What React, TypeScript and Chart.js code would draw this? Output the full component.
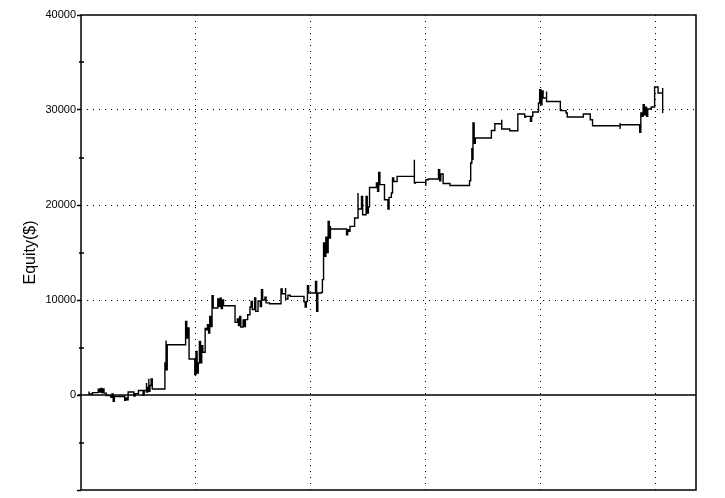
import React, { useEffect, useRef } from 'react';
import { Chart, registerables } from 'chart.js';

Chart.register(...registerables);

const FONT = "'Liberation Sans', Arial, sans-serif";

// Trading-day index of each equity change
const equityDays = [
  7, 7, 7, 10, 10, 15, 15, 16, 17, 18, 19, 20, 22, 26, 26, 27, 28, 29, 38, 38,
  39, 40, 41, 46, 46, 47, 50, 50, 54, 54, 55, 57, 57, 58, 59, 59, 60, 61, 62, 73,
  73, 74, 74, 75, 91, 91, 92, 93, 94, 99, 99,
  100, 101, 102, 103, 104, 105, 106, 108, 109, 110, 111, 112, 113, 114, 115, 118, 119, 120, 121, 122,
  123, 124, 134, 134, 136, 137, 138, 139, 141, 142, 143, 145, 147, 148, 149, 151, 152, 154, 156, 157,
  158, 160, 161, 164, 173, 174, 175, 177, 178, 178, 180, 182, 193, 194, 195, 196, 197, 198, 203, 204,
  205, 206, 209,
  210, 211, 212, 213, 214, 215, 216, 217, 217, 231, 231, 232, 233, 234, 236, 238, 240, 241, 241, 244,
  244, 245, 247, 248, 249, 250, 251, 256, 257, 258, 259, 260, 264, 264, 266, 267, 268, 270, 271, 272,
  275, 275, 289, 290, 290, 291, 299, 300, 300, 302,
  311, 311, 312, 313, 315, 315, 321, 321, 338, 338, 339, 340, 340, 341, 342, 343, 357, 357, 360, 360,
  366, 366, 366, 373, 373, 380, 380, 386, 386, 387, 391, 391, 392, 393, 398, 398, 399, 400, 401, 402,
  404, 405, 405, 417, 417, 422, 422, 423, 437, 437, 443, 443, 445, 445, 469, 469, 469, 469, 486, 486,
  487, 488, 489, 490, 491, 492, 493, 496, 496, 499, 499, 502, 502, 506, 506, 506,
];

// Equity ($) at each change
const equityValues = [
  0, 380, 110, 110, 250, 200, 600, 300, 700, 250, 650, 200, -70, -70, -250, 100, -650, -150, -150, -570,
  -300, -500, 320, 320, -100, 150, 150, 480, 480, 0, 480, 1260, 300, 800, 1720, 400, 1000, 1680, 630, 630,
  3370, 5750, 2660, 5290, 5290, 7750, 6000, 7050, 3790, 3790, 2140,
  4590, 2300, 3370, 5640, 3400, 5200, 4500, 7000, 6870, 7400, 6530, 8270, 7200, 10450, 9160, 9160, 10100, 9330, 10200, 9100,
  10000, 9400, 9400, 7640, 8000, 7300, 8280, 7160, 7900, 7200, 7930, 8450, 9260, 9850, 9000, 10210, 8800, 9900, 9300, 11080,
  10000, 10300, 9700, 9610, 9610, 11160, 10660, 10660, 11260, 10100, 10500, 10380, 10380, 9800, 9260, 9850, 11500, 10740, 10740, 11960,
  8800, 10740, 10800,
  12140, 16000, 14590, 16600, 15000, 18270, 16530, 17800, 17470, 17470, 16870, 17400, 17220, 17750, 17750, 18630, 18630, 21260, 19580, 19580,
  20900, 18980, 18980, 20900, 19160, 19800, 21850, 21850, 22320, 21430, 23430, 22140, 22140, 20560, 20560, 19580, 20800, 21260, 22840, 22480,
  22480, 23010, 23010, 24770, 22320, 22380, 22380, 22030, 22660, 22740,
  22740, 23710, 22560, 23260, 23260, 22270, 22270, 22060, 22060, 22560, 24420, 26000, 24800, 28630, 26500, 27050, 27050, 27850, 27850, 28560,
  28560, 28980, 28000, 28000, 27820, 27820, 29580, 29580, 29260, 29330, 29330, 28800, 29330, 29790, 29790, 30740, 32140, 30560, 32000, 31260,
  31260, 31960, 30900, 30900, 29930, 29930, 29690, 29260, 29260, 29580, 29580, 28980, 28800, 28350, 28350, 28630, 28000, 28450, 28450, 27640,
  29690, 29330, 30560, 29500, 30300, 29330, 30100, 30100, 30320, 30320, 32420, 32420, 31790, 31790, 32320, 29690,
];

const yLabeledTicks = [0, 10000, 20000, 30000, 40000];
const yMajorTicks = [-10000, 0, 10000, 20000, 30000, 40000];
const yMinorTicks = [-5000, 5000, 15000, 25000, 35000];
const yDottedGrid = [10000, 20000, 30000];
const xDottedGrid = [100, 200, 300, 400, 500];
const yTitle = 'Equity($)';
const X_MIN = 0;
const X_MAX = 535;
const Y_MIN = -10000;
const Y_MAX = 40000;

const framePlugin = {
  id: 'frameAndZero',
  beforeDatasetsDraw(chart: any) {
    const { ctx, chartArea, scales } = chart;
    const y0 = Math.round(scales.y.getPixelForValue(0));
    ctx.save();
    ctx.strokeStyle = '#000';
    ctx.lineWidth = 1.5;
    ctx.beginPath();
    ctx.moveTo(chartArea.left - 3, y0);
    ctx.lineTo(chartArea.right, y0);
    ctx.stroke();
    ctx.restore();
  },
  afterDraw(chart: any) {
    const { ctx, chartArea, scales } = chart;
    ctx.save();
    ctx.strokeStyle = '#000';
    ctx.lineWidth = 1.5;
    ctx.strokeRect(chartArea.left, chartArea.top, chartArea.right - chartArea.left, chartArea.bottom - chartArea.top);
    ctx.beginPath();
    for (const v of yMinorTicks) {
      const py = Math.round(scales.y.getPixelForValue(v));
      ctx.moveTo(chartArea.left - 2, py);
      ctx.lineTo(chartArea.left + 3, py);
    }
    ctx.stroke();
    ctx.restore();
  },
};

export default function App() {
  const canvasRef = useRef<HTMLCanvasElement | null>(null);

  useEffect(() => {
    const canvas = canvasRef.current;
    if (!canvas) return;
    const points = equityDays.map((d, i) => ({ x: d, y: equityValues[i] }));
    const chart = new Chart(canvas, {
      type: 'line',
      data: {
        datasets: [
          {
            label: 'Equity',
            data: points,
            stepped: true,
            borderColor: '#000',
            borderWidth: 1.4,
            pointRadius: 0,
            fill: false,
            tension: 0,
          },
        ],
      },
      options: {
        animation: false,
        responsive: false,
        devicePixelRatio: 1,
        events: [],
        layout: { padding: { left: 0, top: 15, right: 29, bottom: 8 } },
        plugins: { legend: { display: false }, tooltip: { enabled: false }, title: { display: false } },
        scales: {
          x: {
            type: 'linear',
            min: X_MIN,
            max: X_MAX,
            border: { display: false, dash: [1, 5] },
            grid: {
              drawTicks: false,
              lineWidth: 1,
              color: (c: any) => (xDottedGrid.includes(c.tick?.value) ? '#000' : 'rgba(0,0,0,0)'),
            },
            ticks: { display: false, stepSize: 100 },
            afterFit: (scale: any) => {
              scale.height = 0;
            },
          },
          y: {
            type: 'linear',
            min: Y_MIN,
            max: Y_MAX,
            border: { display: false, dash: [1, 5] },
            grid: {
              drawTicks: true,
              tickLength: 4,
              tickWidth: 1.5,
              lineWidth: 1,
              color: (c: any) => (yDottedGrid.includes(c.tick?.value) ? '#000' : 'rgba(0,0,0,0)'),
              tickColor: (c: any) => (yMajorTicks.includes(c.tick?.value) ? '#000' : 'rgba(0,0,0,0)'),
            },
            ticks: {
              stepSize: 5000,
              autoSkip: false,
              padding: 1,
              color: '#000',
              font: { family: FONT, size: 11 },
              callback: (v: any) => (yLabeledTicks.includes(Number(v)) ? String(v) : ''),
            },
            title: {
              display: true,
              text: yTitle,
              color: '#000',
              font: { family: FONT, size: 16 },
              padding: { top: 21, bottom: 0 },
            },
            afterFit: (scale: any) => {
              scale.width = 81;
            },
          },
        },
      },
      plugins: [framePlugin],
    });
    return () => chart.destroy();
  }, []);

  return (
    <canvas
      ref={canvasRef}
      width={725}
      height={498}
      style={{ position: 'fixed', left: 0, top: 0, width: 725, height: 498, background: '#fff' }}
    />
  );
}
